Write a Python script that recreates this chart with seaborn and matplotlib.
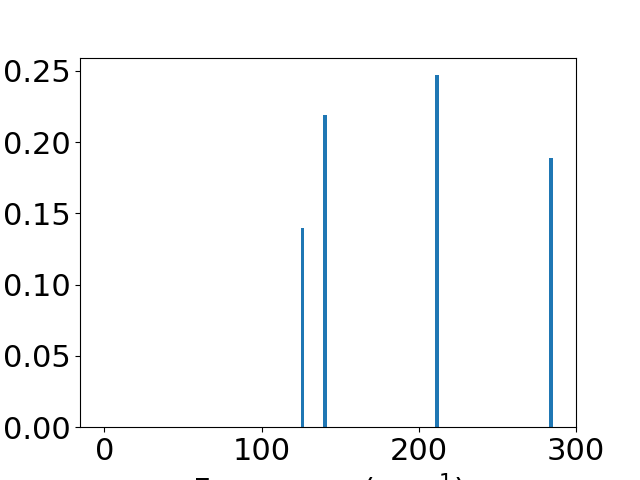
import matplotlib
matplotlib.use("Agg")
import matplotlib.pyplot as plt
import seaborn as sns

# vibrational modes
freqs = [125.8, 140.3, 211.6, 284.1]
intensity = [0.140, 0.219, 0.247, 0.189]

plt.rcParams['font.size'] = 22

fig, ax = plt.subplots(figsize=(6.4, 4.8), dpi=100)
min_gap = min(b - a for a, b in zip(freqs, freqs[1:]))
sns.barplot(x=freqs, y=intensity, native_scale=True, width=2.0 / min_gap,
            color='#1f77b4', saturation=1, ax=ax)
ax.set_xlim(-15.5, 300)
ax.set_ylim(0, 0.2594)
ax.set_xticks([0, 100, 200, 300])
ax.set_yticks([0, 0.05, 0.10, 0.15, 0.20, 0.25])
ax.set_yticklabels(['0.00', '0.05', '0.10', '0.15', '0.20', '0.25'])
ax.set_xlabel('Frequency (cm$^{-1}$)')
ax.set_ylabel('')

fig.savefig('out.png', dpi=100)
